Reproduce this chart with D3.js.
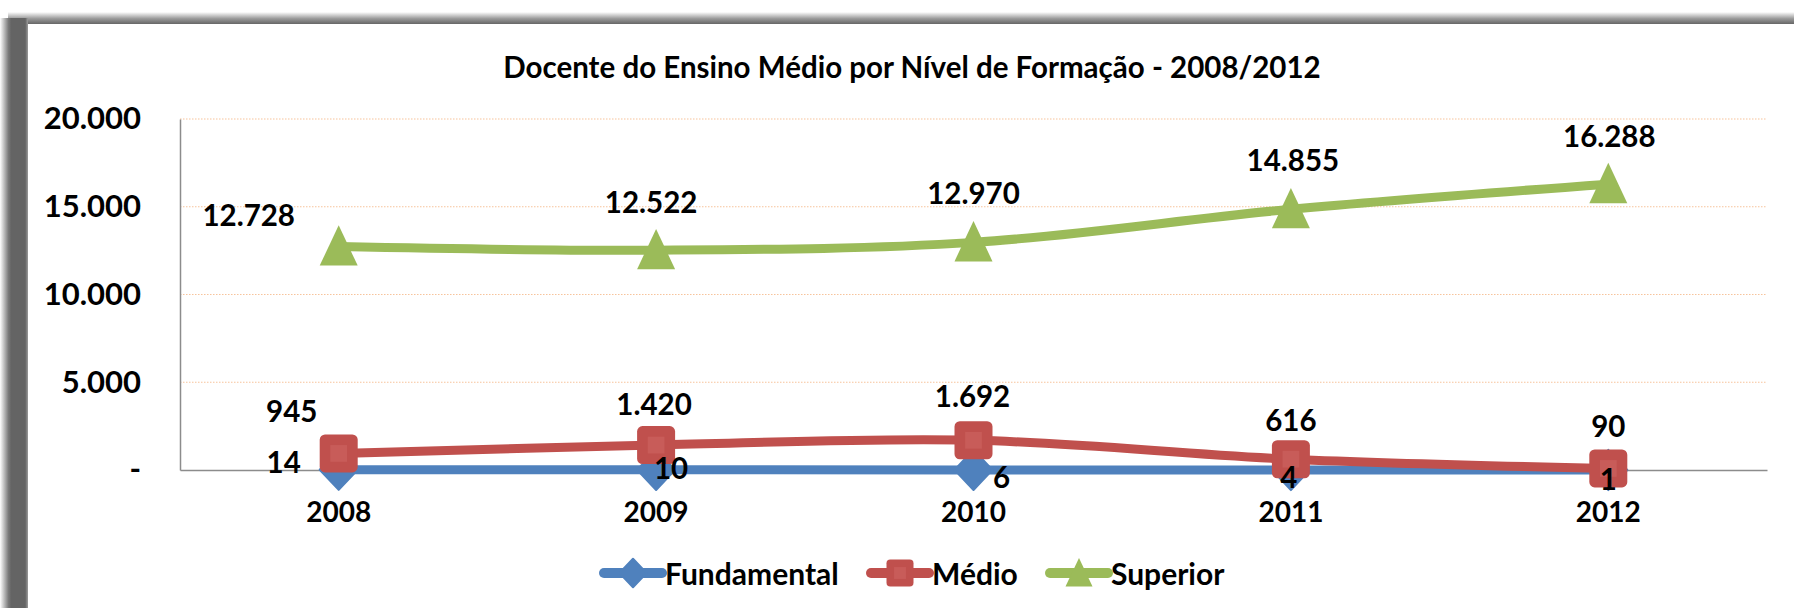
<!DOCTYPE html>
<html>
<head>
<meta charset="utf-8">
<script src="https://cdn.jsdelivr.net/npm/d3@7"></script>
<style>
  body { margin: 0; background: #fff; }
  svg text { font-family: Lato, "Open Sans", sans-serif; font-weight: bold; fill: #000; }
</style>
</head>
<body>
<svg id="chart" width="1794" height="608"></svg>
<script>
// data
var years = ["2008", "2009", "2010", "2011", "2012"];
var fundamental = [14, 10, 6, 4, 1];
var medio = [945, 1420, 1692, 616, 90];
var superior = [12728, 12522, 12970, 14855, 16288];
var yTicks = [0, 5000, 10000, 15000, 20000];
var seriesNames = ["Fundamental", "Médio", "Superior"];

// label nudges (px) as placed in the original
var fundOffsets = [[-55, -8], [15, -2], [28, 7], [-2, 7], [0, 9]];
var medioOffsets = [[-47, -43], [-2, -42], [-1, -45], [0, -40], [0, -43]];
var supOffsets = [[-90, -32], [-5, -49], [0, -50], [2, -50], [1, -49]];

var svg = d3.select("#chart"),
    margin = {top: 119, right: 27, bottom: 138, left: 180},
    width = 1794 - margin.left - margin.right,
    height = 608 - margin.top - margin.bottom;

// frame / shadow
var defs = svg.append("defs");
var gTop = defs.append("linearGradient").attr("id", "gTop").attr("x1", 0).attr("y1", 0).attr("x2", 0).attr("y2", 1);
gTop.append("stop").attr("offset", "0%").attr("stop-color", "#ffffff");
gTop.append("stop").attr("offset", "55%").attr("stop-color", "#9a9a9a");
gTop.append("stop").attr("offset", "100%").attr("stop-color", "#666666");
var gLeft = defs.append("linearGradient").attr("id", "gLeft").attr("x1", 0).attr("y1", 0).attr("x2", 1).attr("y2", 0);
gLeft.append("stop").attr("offset", "0%").attr("stop-color", "#ffffff");
gLeft.append("stop").attr("offset", "30%").attr("stop-color", "#7a7a7a");
gLeft.append("stop").attr("offset", "40%").attr("stop-color", "#646464");
gLeft.append("stop").attr("offset", "90%").attr("stop-color", "#646464");
gLeft.append("stop").attr("offset", "100%").attr("stop-color", "#9c9c9c");

svg.append("rect").attr("x", 8).attr("y", 12).attr("width", 1786).attr("height", 12).attr("fill", "url(#gTop)");
svg.append("rect").attr("x", 0).attr("y", 18).attr("width", 28).attr("height", 590).attr("fill", "url(#gLeft)");

var g = svg.append("g").attr("transform", "translate(" + margin.left + "," + margin.top + ")");

var x = d3.scaleBand().domain(years).range([0, width]);
var y = d3.scaleLinear().domain([0, 20000]).range([height, 0]);
var cx = function(i) { return x(years[i]) + x.bandwidth() / 2; };

// gridlines
g.append("g")
  .selectAll("line")
  .data(yTicks.slice(1))
  .enter().append("line")
    .attr("x1", 0).attr("x2", width)
    .attr("y1", function(d) { return y(d); })
    .attr("y2", function(d) { return y(d); })
    .style("stroke", "#f7c49c")
    .style("stroke-width", 1.2)
    .style("stroke-dasharray", "1.5,1.5");

// axes
var yAxis = g.append("g")
  .call(d3.axisLeft(y).tickValues(yTicks).tickSize(0).tickPadding(39)
    .tickFormat(function(d) { return d === 0 ? "-" : d3.format(",")(d).replace(/,/g, "."); }));
yAxis.select(".domain").style("stroke", "#8c8c8c").style("stroke-width", 1.5);
yAxis.selectAll("text").style("font-size", "31px");

var xAxis = g.append("g")
  .attr("transform", "translate(0," + height + ")")
  .call(d3.axisBottom(x).tickSize(0).tickPadding(32));
xAxis.select(".domain").style("stroke", "#8c8c8c").style("stroke-width", 1.5);
xAxis.selectAll("text").style("font-size", "28px");

// title
svg.append("text")
  .attr("x", 912).attr("y", 66)
  .attr("text-anchor", "middle")
  .attr("dominant-baseline", "central")
  .style("font-size", "29.5px")
  .text("Docente do Ensino Médio por Nível de Formação - 2008/2012");

var line = d3.line()
  .curve(d3.curveCardinal.tension(0))
  .x(function(d, i) { return cx(i); })
  .y(function(d) { return y(d); });

var colors = ["#4f81bd", "#c0504d", "#9bbb59"];
var series = [fundamental, medio, superior];

function drawMarker(sel, kind, color, s) {
  if (kind === 0) {
    sel.append("path").attr("d", "M0," + (-s * 0.53) + "L" + (s / 2) + ",0L0," + (s * 0.53) + "L" + (-s / 2) + ",0Z")
      .attr("fill", color).attr("stroke", color).attr("stroke-width", 2).attr("stroke-linejoin", "round");
  } else if (kind === 1) {
    sel.append("rect").attr("x", -s / 2).attr("y", -s / 2).attr("width", s).attr("height", s)
      .attr("rx", s * 0.14).attr("fill", color);
    sel.append("rect").attr("x", -s * 0.22).attr("y", -s * 0.22).attr("width", s * 0.44).attr("height", s * 0.44)
      .attr("fill", "#c85c59");
  } else {
    sel.append("path").attr("d", "M0," + (-s * 0.56) + "L" + (s / 2) + "," + (s * 0.5) + "L" + (-s / 2) + "," + (s * 0.5) + "Z")
      .attr("fill", color);
  }
}

series.forEach(function(vals, k) {
  g.append("path")
    .datum(vals)
    .attr("d", line)
    .attr("fill", "none")
    .attr("stroke", colors[k])
    .attr("stroke-width", 9)
    .attr("stroke-linejoin", "round");
  vals.forEach(function(v, i) {
    var m = g.append("g").attr("transform", "translate(" + cx(i) + "," + y(v) + ")");
    drawMarker(m, k, colors[k], 38);
  });
});

// data labels
var offsets = [fundOffsets, medioOffsets, supOffsets];
series.forEach(function(vals, k) {
  g.append("g").selectAll("text")
    .data(vals)
    .enter().append("text")
      .attr("x", function(d, i) { return cx(i) + offsets[k][i][0]; })
      .attr("y", function(d, i) { return y(d) + offsets[k][i][1]; })
      .attr("text-anchor", "middle")
      .attr("dominant-baseline", "central")
      .style("font-size", "29.5px")
      .text(function(d) { return d3.format(",")(d).replace(/,/g, "."); });
});

// legend
var legendX = [604, 871, 1050];
var legend = svg.append("g").attr("transform", "translate(0,573)");
seriesNames.forEach(function(name, k) {
  var lg = legend.append("g").attr("transform", "translate(" + legendX[k] + ",0)");
  lg.append("line").attr("x1", 0).attr("x2", 58).attr("y1", 0).attr("y2", 0)
    .attr("stroke", colors[k]).attr("stroke-width", 10).attr("stroke-linecap", "round");
  var mk = lg.append("g").attr("transform", "translate(29,0)");
  drawMarker(mk, k, colors[k], 27);
  lg.append("text").attr("x", 61).attr("y", 0)
    .attr("dominant-baseline", "central")
    .style("font-size", "30px")
    .text(name);
});
</script>
</body>
</html>
